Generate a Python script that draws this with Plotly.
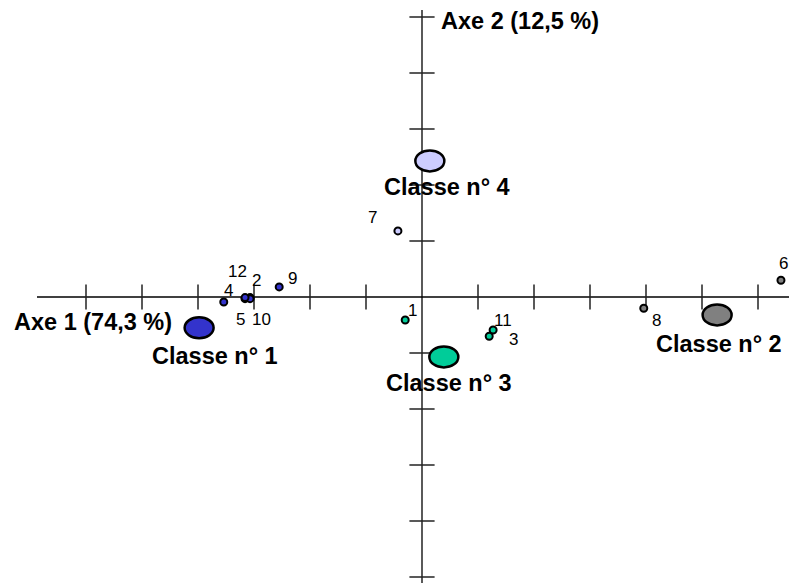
import plotly.graph_objects as go

# individuals: factor scores on axis 1 and axis 2 (one tick = 1 unit)
obs_ids = ["1", "2", "3", "4", "5", "6", "7", "8", "9", "10", "11", "12"]
obs_x = [-0.30, -3.07, 1.20, -3.54, -3.16, 6.41, -0.43, 3.96, -2.55, -3.07, 1.27, -3.16]
obs_y = [-0.41, -0.01, -0.70, -0.09, -0.03, 0.30, 1.18, -0.20, 0.18, -0.03, -0.59, -0.01]
obs_class = [3, 1, 3, 1, 1, 2, 4, 2, 1, 1, 3, 1]

# class centroids
class_ids = [1, 2, 3, 4]
class_names = ["Classe n° 1", "Classe n° 2", "Classe n° 3", "Classe n° 4"]
class_x = [-3.98, 5.27, 0.39, 0.14]
class_y = [-0.55, -0.32, -1.07, 2.43]

x_ticks = [-6, -5, -4, -3, -2, -1, 1, 2, 3, 4, 5, 6]
y_ticks = [-5, -4, -3, -2, -1, 1, 2, 3, 4, 5]

axis1_label = "Axe 1 (74,3 %)"
axis2_label = "Axe 2 (12,5 %)"

class_colors = {1: "#3333CC", 2: "#808080", 3: "#00CC99", 4: "#CCCCFF"}

# label offsets in pixels (dx, dy up)
obs_offsets = {
    "1": (7, 9), "2": (6, 17), "3": (24, -3), "4": (5, 12), "5": (-5, -21),
    "6": (3, 17), "7": (-25, 13), "8": (13, -12), "9": (13, 8), "10": (11, -21),
    "11": (10, 10), "12": (-8, 26),
}
class_offsets = {1: (16, -28), 2: (2, -29), 3: (5, -26), 4: (17, -26)}

W, H = 797, 583
pad = 8  # page body margin
ox, oy, unit = 422 - pad, 297 - pad, 56  # origin in figure pixels, pixels per unit
x_range = [(0 - ox) / unit, (W - ox) / unit]
y_range = [(oy - H) / unit, (oy - 0) / unit]
font = "Liberation Sans, Arial, sans-serif"

fig = go.Figure()

# axes
fig.add_trace(go.Scatter(x=[(37 - pad - ox) / unit, x_range[1]], y=[0, 0], mode="lines",
                         line=dict(color="black", width=1.3), hoverinfo="skip"))
fig.add_trace(go.Scatter(x=[0, 0], y=[y_range[0], (oy - 2) / unit], mode="lines",
                         line=dict(color="black", width=1.3), hoverinfo="skip"))
fig.add_trace(go.Scatter(x=x_ticks, y=[0] * len(x_ticks), mode="markers",
                         marker=dict(symbol="line-ns-open", size=18, color="#222",
                                     line=dict(color="#222", width=1.5)),
                         hoverinfo="skip"))
fig.add_trace(go.Scatter(x=[0] * len(y_ticks), y=y_ticks, mode="markers",
                         marker=dict(symbol="line-ew-open", size=18, color="#222",
                                     line=dict(color="#222", width=1.5)),
                         hoverinfo="skip"))

# individuals
fig.add_trace(go.Scatter(
    x=obs_x, y=obs_y, mode="markers", text=obs_ids,
    marker=dict(size=7, color=[class_colors[c] for c in obs_class],
                line=dict(color="black", width=2)),
))

for i, name in enumerate(obs_ids):
    dx, dy = obs_offsets[name]
    fig.add_annotation(x=obs_x[i], y=obs_y[i], text=name, showarrow=False,
                       xshift=dx, yshift=dy, font=dict(family=font, size=17, color="black"))

# class centroids as ellipses
for i, c in enumerate(class_ids):
    fig.add_shape(type="circle", xref="x", yref="y", xsizemode="pixel", ysizemode="pixel",
                  xanchor=class_x[i], yanchor=class_y[i], x0=-14.5, x1=14.5, y0=-10.5, y1=10.5,
                  fillcolor=class_colors[c], line=dict(color="black", width=2.5), layer="above")
    dx, dy = class_offsets[c]
    fig.add_annotation(x=class_x[i], y=class_y[i], text="<b>%s</b>" % class_names[i],
                       showarrow=False, xshift=dx, yshift=dy,
                       font=dict(family=font, size=23.5, color="black"))

fig.add_annotation(xref="paper", yref="paper", x=(174 - pad) / W, y=1 - (322 - pad) / H,
                   text="<b>%s</b>" % axis1_label, showarrow=False, xanchor="right", yanchor="middle",
                   font=dict(family=font, size=23.5, color="black"))
fig.add_annotation(xref="paper", yref="paper", x=(439 - pad) / W, y=1 - (21 - pad) / H,
                   text="<b>%s</b>" % axis2_label, showarrow=False, xanchor="left", yanchor="middle",
                   font=dict(family=font, size=23.5, color="black"))

fig.update_layout(
    width=W, height=H, margin=dict(l=0, r=0, t=0, b=0),
    paper_bgcolor="white", plot_bgcolor="white", showlegend=False,
    xaxis=dict(range=x_range, visible=False, fixedrange=True),
    yaxis=dict(range=y_range, visible=False, fixedrange=True),
)

fig.write_html("out.html")
